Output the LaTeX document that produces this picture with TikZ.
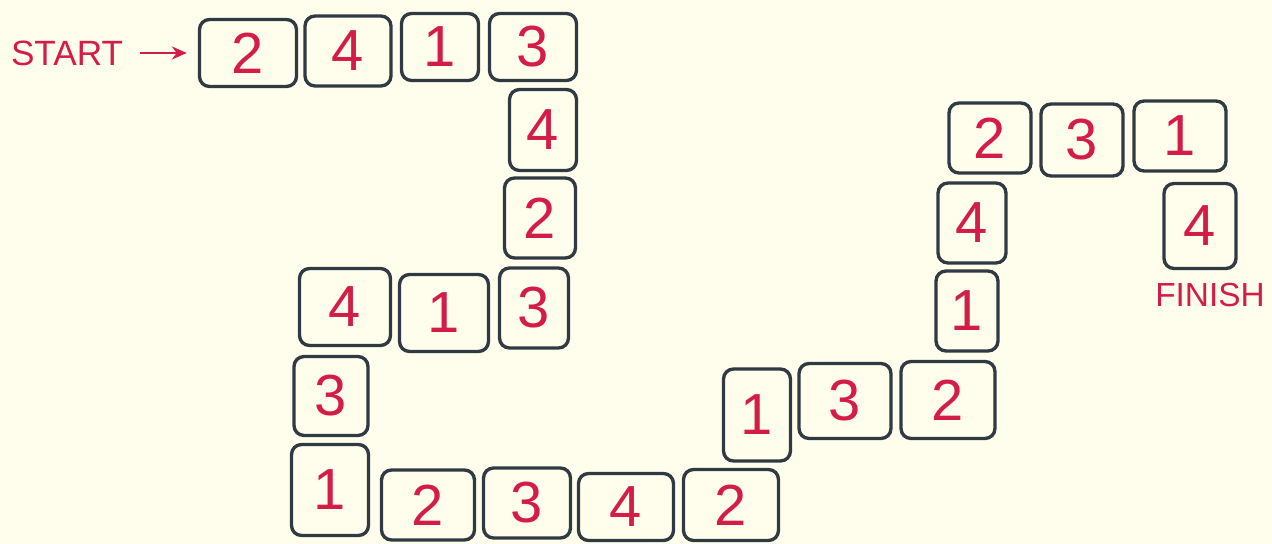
\documentclass[tikz,border=0pt]{standalone}
\usepackage{fontspec}
\setmainfont{Liberation Sans}
\usetikzlibrary{arrows.meta}
\definecolor{paper}{RGB}{255,254,236}
\definecolor{ink}{RGB}{48,58,68}
\definecolor{pen}{RGB}{212,28,72}
\begin{document}
\begin{tikzpicture}[x=0.02cm, y=-0.02cm,
  tile/.style 2 args={draw=ink, line width=1.9pt, rounded corners=0.2cm, inner sep=0pt,
    minimum width=#1cm, minimum height=#2cm, text=pen, font=\fontsize{33}{33}\selectfont},
  word/.style={text=pen, inner sep=2pt, font=\fontsize{19}{19}\selectfont}]
\fill[paper] (0,0) rectangle (1272,544);
\node[tile={1.94}{1.34}] (t1) at (248,53) {2};
\node[tile={1.72}{1.40}] (t2) at (348,51) {4};
\node[tile={1.54}{1.34}] (t3) at (440,47) {1};
\node[tile={1.74}{1.34}] (t4) at (533,47) {3};
\node[tile={1.34}{1.62}] (t5) at (543,130) {4};
\node[tile={1.42}{1.60}] (t6) at (540,218) {2};
\node[tile={1.38}{1.60}] (t7) at (534,308) {3};
\node[tile={1.78}{1.54}] (t8) at (444,313) {1};
\node[tile={1.82}{1.54}] (t9) at (345,307) {4};
\node[tile={1.48}{1.58}] (t10) at (331,396) {3};
\node[tile={1.54}{1.82}] (t11) at (330,490) {1};
\node[tile={1.86}{1.40}] (t12) at (428,505) {2};
\node[tile={1.74}{1.40}] (t13) at (527,503) {3};
\node[tile={1.90}{1.34}] (t14) at (626,507) {4};
\node[tile={1.90}{1.42}] (t15) at (731,505) {2};
\node[tile={1.34}{1.84}] (t16) at (757,415) {1};
\node[tile={1.84}{1.50}] (t17) at (845,401) {3};
\node[tile={1.88}{1.54}] (t18) at (948,400) {2};
\node[tile={1.24}{1.60}] (t19) at (967,311) {1};
\node[tile={1.36}{1.60}] (t20) at (972,223) {4};
\node[tile={1.64}{1.40}] (t21) at (990,138) {2};
\node[tile={1.64}{1.44}] (t22) at (1082,140) {3};
\node[tile={1.84}{1.40}] (t23) at (1180,136) {1};
\node[tile={1.44}{1.70}] (t24) at (1200,226) {4};
\node[word, font=\fontsize{20}{20}\selectfont] (start) at (67,53) {START};
\node[word] (finish) at (1210,295) {FINISH};
\draw[pen, line width=1.5pt, -{Stealth[length=3mm, width=2.6mm]}, shorten <=0.26cm, shorten >=0.22cm] (start) -- (t1);
\end{tikzpicture}
\end{document}
